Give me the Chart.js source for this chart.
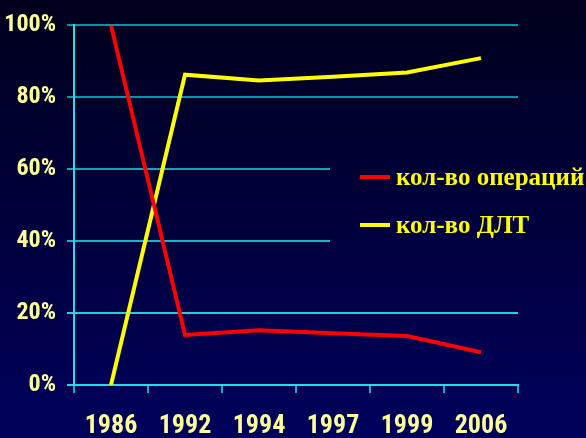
<!DOCTYPE html>
<html>
<head>
<meta charset="utf-8">
<script src="https://cdn.jsdelivr.net/npm/chart.js@4/dist/chart.umd.min.js"></script>
<style>
  html, body { margin: 0; padding: 0; background: #000030; }
  #wrap { width: 586px; height: 438px; }
</style>
</head>
<body>
<div id="wrap"><canvas id="grafico"></canvas></div>
<script>
var years = ['1986', '1992', '1994', '1997', '1999', '2006'];
var operacii = [100, 13.9, 15.2, 14.4, 13.6, 9.1];
var dlt = [0, 86.3, 84.7, 85.7, 86.9, 90.9];
var seriesNames = ['кол-во операций', 'кол-во ДЛТ'];
var seriesColors = ['#ff0000', '#ffff00'];

function bgGradient(ctx, h) {
    var g = ctx.createLinearGradient(0, 0, 0, h);
    g.addColorStop(0, '#00001c');
    g.addColorStop(1, '#00005c');
    return g;
}

var fondo = {
    id: 'fondo',
    beforeDraw: function (chart) {
        var c = chart.ctx;
        c.save();
        c.fillStyle = bgGradient(c, chart.height);
        c.fillRect(0, 0, chart.width, chart.height);
        c.restore();
    },
    beforeDatasetsDraw: function (chart) {
        // the legend box hides the middle gridlines
        var c = chart.ctx;
        c.save();
        c.fillStyle = bgGradient(c, chart.height);
        c.fillRect(330, 120, chart.width - 330, 170);
        c.restore();
    },
    afterDraw: function (chart) {
        var c = chart.ctx;
        c.save();
        c.font = 'bold 25px "Liberation Serif", "Times New Roman", serif';
        c.textBaseline = 'middle';
        var ys = [177, 225];
        for (var i = 0; i < seriesNames.length; i++) {
            c.strokeStyle = seriesColors[i];
            c.lineWidth = 4;
            c.beginPath();
            c.moveTo(360, ys[i]);
            c.lineTo(390, ys[i]);
            c.stroke();
            c.fillStyle = '#ffff00';
            c.fillText(seriesNames[i], 396, ys[i] + 2);
        }
        c.restore();
    }
};

var gridCols = ['#20d8ea', '#20d0e0', '#10b8c8', '#10a8b8', '#0098a8', '#0098a8'];
var tickFont = '"Liberation Sans Narrow", "Roboto Condensed", "DejaVu Sans Condensed", sans-serif';

var ctx = document.getElementById('grafico').getContext('2d');
var myChart = new Chart(ctx, {
    type: 'line',
    data: {
        labels: years,
        datasets: [
            {
                label: seriesNames[0],
                data: operacii,
                borderColor: seriesColors[0],
                borderWidth: 4,
                pointRadius: 0,
                tension: 0
            },
            {
                label: seriesNames[1],
                data: dlt,
                borderColor: seriesColors[1],
                borderWidth: 4,
                pointRadius: 0,
                tension: 0
            }
        ]
    },
    options: {
        responsive: true,
        maintainAspectRatio: false,
        animation: false,
        layout: { padding: { top: 24, right: 68, bottom: 0, left: 0 } },
        plugins: {
            legend: { display: false },
            tooltip: { enabled: false }
        },
        scales: {
            x: {
                offset: true,
                grid: {
                    offset: true,
                    drawOnChartArea: false,
                    color: '#10b0c8',
                    tickLength: 8,
                    lineWidth: 2
                },
                border: { color: '#20e0f0', width: 2 },
                ticks: {
                    color: '#ffff99',
                    padding: 18,
                    font: { family: tickFont, size: 26, weight: 'bold' }
                },
                afterFit: function (scale) { scale.height = 53; }
            },
            y: {
                min: 0,
                max: 100,
                ticks: {
                    stepSize: 20,
                    color: '#ffff99',
                    padding: 11,
                    callback: function (v) { return v + '%'; },
                    font: { family: tickFont, size: 24, weight: 'bold' }
                },
                grid: {
                    color: function (c) { return gridCols[c.index] || '#10b8c8'; },
                    lineWidth: 2,
                    tickLength: 7
                },
                border: { color: '#20e0f0', width: 2 },
                afterFit: function (scale) { scale.width = 74; }
            }
        }
    },
    plugins: [fondo]
});
</script>
</body>
</html>
